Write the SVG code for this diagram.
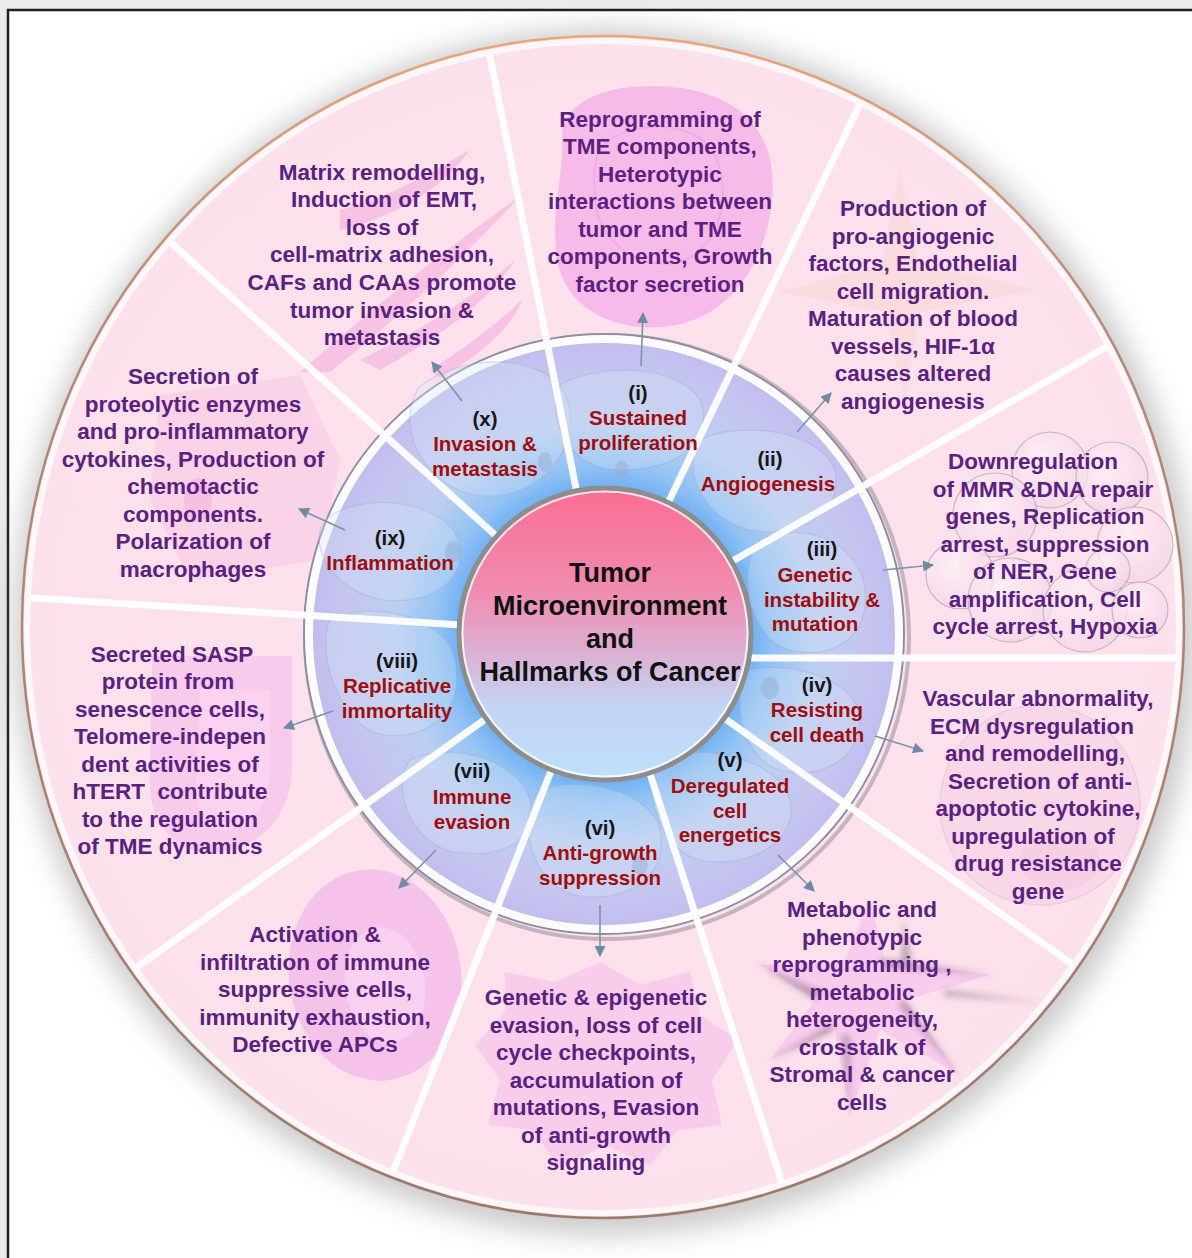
<svg xmlns="http://www.w3.org/2000/svg" width="1192" height="1258" viewBox="0 0 1192 1258">
  <defs>
    <style>
      text { font-family: "Liberation Sans", Arial, Helvetica, sans-serif; font-weight: bold; text-anchor: middle; }
      .desc { font-size: 22.5px; fill: #5a2180; }
      .hm { font-size: 20.5px; fill: #a00d0d; }
      .num { font-size: 20.5px; fill: #161616; }
      .title { font-size: 27px; fill: #111111; }
      .spoke { stroke: #ffffff; stroke-width: 7; stroke-linecap: butt; opacity: 0.95; }
      .conn { stroke: #7d92a8; stroke-width: 1.6; fill: none; marker-end: url(#ah); }
      .cell { fill: #d7e4f6; fill-opacity: 0.3; stroke: #8ea8cb; stroke-opacity: 0.35; stroke-width: 1.2; }
      .nuc { fill: #96aed2; fill-opacity: 0.5; }
      .bub { fill: url(#bubble); fill-opacity: 0.7; stroke: #a89aa6; stroke-width: 1.2; stroke-opacity: 0.6; }
    </style>
    <marker id="ah" viewBox="0 0 10 10" refX="9" refY="5" markerWidth="13" markerHeight="11" markerUnits="userSpaceOnUse" orient="auto">
      <path d="M0,0 L10,5 L0,10 Z" fill="#6f8aa3"/>
    </marker>
    <filter id="soft" x="-10%" y="-10%" width="120%" height="120%">
      <feGaussianBlur stdDeviation="14"/>
    </filter>
    <filter id="blur4" x="-20%" y="-20%" width="140%" height="140%">
      <feGaussianBlur stdDeviation="3"/>
    </filter>
    <linearGradient id="core" x1="0" y1="0" x2="0" y2="1">
      <stop offset="0" stop-color="#fb6d94"/>
      <stop offset="0.35" stop-color="#f08cae"/>
      <stop offset="0.58" stop-color="#dab3d6"/>
      <stop offset="0.74" stop-color="#c4d3f1"/>
      <stop offset="1" stop-color="#bde0fb"/>
    </linearGradient>
    <linearGradient id="rim" x1="0" y1="0" x2="0" y2="1">
      <stop offset="0" stop-color="#e9a77a"/>
      <stop offset="0.25" stop-color="#b48a78"/>
      <stop offset="1" stop-color="#9c7a6a"/>
    </linearGradient>
    <radialGradient id="ring" gradientUnits="userSpaceOnUse" cx="605" cy="634" r="300">
      <stop offset="0.45" stop-color="#5fa8f2"/>
      <stop offset="0.56" stop-color="#92c2f4"/>
      <stop offset="0.7" stop-color="#bccff3"/>
      <stop offset="0.86" stop-color="#c6c6f0"/>
      <stop offset="1" stop-color="#c0bcee"/>
    </radialGradient>
    <radialGradient id="bubble" cx="0.4" cy="0.35" r="0.7">
      <stop offset="0" stop-color="#fdf3f8"/>
      <stop offset="1" stop-color="#f4d3e6"/>
    </radialGradient>
    <radialGradient id="disc" gradientUnits="userSpaceOnUse" cx="603" cy="627" r="590">
      <stop offset="0" stop-color="#fde3ee"/>
      <stop offset="1" stop-color="#fce0eb"/>
    </radialGradient>
    <clipPath id="discClip">
      <ellipse cx="603" cy="627" rx="574" ry="584"/>
    </clipPath>
  </defs>

  <!-- page and frame -->
  <rect x="0" y="0" width="1192" height="1258" fill="#ebebeb"/>
  <rect x="8" y="10" width="1200" height="1270" fill="#ffffff" stroke="#1e1e1e" stroke-width="2.5"/>

  <!-- outer disc with its halo -->
  <ellipse cx="606" cy="632" rx="592" ry="603" fill="#8a8a8a" opacity="0.45" filter="url(#soft)"/>
  <ellipse cx="603" cy="627" rx="581" ry="591" fill="url(#disc)" stroke="url(#rim)" stroke-width="2.5"/>
  <ellipse cx="603" cy="627" rx="576" ry="586" fill="none" stroke="#ffffff" stroke-width="6" opacity="0.75"/>

  <!-- soft illustrations behind the effect texts -->
  <g id="backdrop">
    <!-- (i) cell blob -->
    <path d="M562 140 C560 95 622 80 682 88 C742 98 778 132 772 200 C766 262 730 322 662 327 C602 331 560 300 556 252 C552 205 563 182 562 140 Z" fill="#f6b4ea" opacity="0.85"/>
    <path d="M600 150 C620 120 690 118 712 150 C735 190 720 250 680 262 C640 272 598 240 596 205 C594 180 592 165 600 150 Z" fill="none" stroke="#e79fd8" stroke-width="2" opacity="0.5"/>
    <!-- (x) fibroblast streaks -->
    <g fill="#f4aede" opacity="0.6">
      <path d="M300 372 C360 320 430 260 520 196 C470 250 420 300 330 372 Z"/>
      <path d="M340 210 C380 200 420 180 470 150 C440 190 400 215 340 230 Z"/>
      <path d="M360 360 C420 330 470 300 515 260 C490 300 450 330 380 370 Z"/>
      <path d="M430 370 C470 345 500 320 522 300 C510 330 480 355 440 378 Z"/>
    </g>
    <!-- (ii) endothelial cell -->
    <path d="M900 170 L918 262 L1035 290 L920 312 L905 400 L885 312 L780 292 L882 264 Z" fill="#f6c9b7" opacity="0.22"/>
    <!-- (ix) square cell -->
    <path d="M160 395 L300 375 L340 460 L320 560 L190 580 L150 500 Z" fill="#f6bfe2" opacity="0.4"/>
    <ellipse cx="198" cy="500" rx="14" ry="22" fill="#f5b3df" opacity="0.6"/>
    <!-- (iii) bubble cluster -->
    <g>
      <circle class="bub" cx="1050" cy="470" r="38"/>
      <circle class="bub" cx="1112" cy="478" r="36"/>
      <circle class="bub" cx="995" cy="515" r="42"/>
      <circle class="bub" cx="1135" cy="545" r="38"/>
      <circle class="bub" cx="960" cy="575" r="34"/>
      <circle class="bub" cx="1010" cy="600" r="42"/>
      <circle class="bub" cx="1085" cy="610" r="42"/>
      <circle class="bub" cx="1140" cy="610" r="28"/>
      <circle class="bub" cx="1108" cy="570" r="22"/>
    </g>
    <!-- (viii) shield -->
    <path d="M152 656 L292 656 L292 765 C292 822 252 852 212 852 C172 852 150 822 150 782 Z" fill="#f6c0ec" opacity="0.7"/>
    <path d="M200 690 L270 690 L270 770 C270 810 245 830 222 830 C205 830 195 810 196 785 Z" fill="#fad8f3" opacity="0.6"/>
    <!-- (iv) round cell -->
    <circle cx="1040" cy="805" r="100" fill="#f5cfe6" opacity="0.5" stroke="#e5b8d2" stroke-width="1.5"/>
    <ellipse cx="1060" cy="860" rx="40" ry="30" fill="#f1c5de" opacity="0.45"/>
    <!-- (vii) ring cell -->
    <ellipse cx="375" cy="975" rx="86" ry="106" transform="rotate(-8 375 975)" fill="#f3b5e8" opacity="0.72"/>
    <ellipse cx="385" cy="985" rx="40" ry="58" transform="rotate(-8 385 985)" fill="#f9d3f1" opacity="0.9"/>
    <!-- (vi) ragged cell -->
    <path d="M600 962 L640 985 L690 972 L700 1015 L738 1040 L712 1080 L722 1125 L678 1130 L650 1165 L605 1145 L560 1168 L532 1130 L488 1125 L500 1080 L475 1045 L505 1012 L505 972 L555 982 Z" fill="#f8c3ec" opacity="0.7"/>
    <!-- (v) starburst -->
    <g>
      <path d="M870 900 L885 960 L990 975 L905 1000 L960 1075 L880 1030 L850 1115 L835 1030 L770 1060 L815 1000 L760 965 L845 960 Z" fill="#f8c6ee" opacity="0.8"/>
      <g fill="#7d6b7a" opacity="0.5" filter="url(#blur4)">
        <path d="M880 958 L995 975 L886 968 Z"/>
        <path d="M905 1000 L962 1078 L898 1005 Z"/>
        <path d="M835 1030 L768 1062 L830 1024 Z"/>
        <path d="M815 1000 L755 962 L822 992 Z"/>
        <path d="M850 1035 L850 1118 L842 1035 Z"/>
        <path d="M944 990 L1042 1002 L944 996 Z"/>
        <path d="M905 920 L912 965 L900 965 Z"/>
      </g>
    </g>
  </g>

  <!-- inner ring with cells -->
  <g id="ring-band">
    <circle cx="607" cy="637" r="302" fill="none" stroke="#5e5e6e" stroke-width="4" opacity="0.35"/>
    <circle cx="604" cy="634" r="300" fill="url(#ring)" stroke="#8e8e9e" stroke-width="2"/>
    <circle cx="604" cy="634" r="295" fill="none" stroke="#ffffff" stroke-width="8" opacity="0.95"/>
    <g>
      <path class="cell" d="M418 388 C468 348 555 355 568 402 C580 450 540 500 482 496 C432 492 392 434 418 388 Z"/>
      <path class="cell" d="M560 385 C600 362 680 365 700 400 C715 440 680 470 620 470 C570 470 545 420 560 385 Z"/>
      <path class="cell" d="M700 440 C740 420 820 430 835 470 C845 510 800 540 750 530 C705 520 680 470 700 440 Z"/>
      <path class="cell" d="M760 540 C800 520 860 540 865 590 C870 640 830 660 790 650 C750 640 735 570 760 540 Z"/>
      <path class="cell" d="M750 670 C790 660 860 680 860 720 C860 760 820 780 780 770 C740 760 730 690 750 670 Z"/>
      <path class="cell" d="M660 760 C700 740 780 760 790 800 C800 840 750 870 700 860 C660 850 640 790 660 760 Z"/>
      <path class="cell" d="M540 790 C580 775 650 790 660 830 C670 880 620 905 575 895 C530 885 515 815 540 790 Z"/>
      <path class="cell" d="M410 760 C450 740 520 760 530 800 C540 840 500 860 455 852 C410 845 390 785 410 760 Z"/>
      <path class="cell" d="M330 620 C370 600 445 615 455 660 C465 710 430 740 385 735 C340 730 315 650 330 620 Z"/>
      <path class="cell" d="M325 520 C360 490 445 500 458 540 C470 580 430 605 385 600 C340 595 305 550 325 520 Z"/>
    </g>
    <ellipse class="nuc" cx="453" cy="552" rx="8" ry="11"/>
    <ellipse class="nuc" cx="770" cy="688" rx="9" ry="11"/>
    <ellipse class="nuc" cx="622" cy="470" rx="7" ry="9"/>
    <ellipse class="nuc" cx="545" cy="462" rx="7" ry="10"/>
    <ellipse class="nuc" cx="640" cy="865" rx="8" ry="10"/>
  </g>

  <!-- dividers between the ten sectors -->
  <g id="spokes" clip-path="url(#discClip)">
    <line class="spoke" x1="605" y1="634" x2="484" y2="26"/>
    <line class="spoke" x1="605" y1="634" x2="148" y2="222"/>
    <line class="spoke" x1="605" y1="634" x2="0" y2="596"/>
    <line class="spoke" x1="605" y1="634" x2="109" y2="987"/>
    <line class="spoke" x1="605" y1="634" x2="382" y2="1200"/>
    <line class="spoke" x1="605" y1="634" x2="789" y2="1205"/>
    <line class="spoke" x1="605" y1="634" x2="1102" y2="985"/>
    <line class="spoke" x1="700" y1="658" x2="1200" y2="658"/>
    <line class="spoke" x1="605" y1="634" x2="1136" y2="330"/>
    <line class="spoke" x1="605" y1="634" x2="871" y2="81"/>
  </g>

  <!-- central hub -->
  <g id="node-center">
    <circle cx="605" cy="634" r="146" fill="url(#core)" stroke="#8d8d8d" stroke-width="5"/>
    <circle cx="605" cy="634" r="142.5" fill="none" stroke="#ffffff" stroke-width="2" opacity="0.8"/>
    <text class="title" x="610" y="582">Tumor</text>
    <text class="title" x="610" y="615">Microenvironment</text>
    <text class="title" x="610" y="648">and</text>
    <text class="title" x="610" y="681">Hallmarks of Cancer</text>
  </g>

  <!-- hallmarks on the ring -->
  <g id="hallmark-i">
    <text class="num" x="638" y="400">(i)</text>
    <text class="hm" x="638" y="425">Sustained</text>
    <text class="hm" x="638" y="450">proliferation</text>
  </g>
  <g id="hallmark-ii">
    <text class="num" x="770" y="466">(ii)</text>
    <text class="hm" x="768" y="491">Angiogenesis</text>
  </g>
  <g id="hallmark-iii">
    <text class="num" x="822" y="556">(iii)</text>
    <text class="hm" x="815" y="582">Genetic</text>
    <text class="hm" x="822" y="607">instability &amp;</text>
    <text class="hm" x="815" y="631">mutation</text>
  </g>
  <g id="hallmark-iv">
    <text class="num" x="817" y="692">(iv)</text>
    <text class="hm" x="817" y="717">Resisting</text>
    <text class="hm" x="817" y="742">cell death</text>
  </g>
  <g id="hallmark-v">
    <text class="num" x="730" y="767">(v)</text>
    <text class="hm" x="730" y="793">Deregulated</text>
    <text class="hm" x="730" y="818">cell</text>
    <text class="hm" x="730" y="842">energetics</text>
  </g>
  <g id="hallmark-vi">
    <text class="num" x="600" y="835">(vi)</text>
    <text class="hm" x="600" y="860">Anti-growth</text>
    <text class="hm" x="600" y="885">suppression</text>
  </g>
  <g id="hallmark-vii">
    <text class="num" x="472" y="778">(vii)</text>
    <text class="hm" x="472" y="804">Immune</text>
    <text class="hm" x="472" y="829">evasion</text>
  </g>
  <g id="hallmark-viii">
    <text class="num" x="397" y="668">(viii)</text>
    <text class="hm" x="397" y="693">Replicative</text>
    <text class="hm" x="397" y="718">immortality</text>
  </g>
  <g id="hallmark-ix">
    <text class="num" x="390" y="545">(ix)</text>
    <text class="hm" x="390" y="570">Inflammation</text>
  </g>
  <g id="hallmark-x">
    <text class="num" x="485" y="426">(x)</text>
    <text class="hm" x="485" y="451">Invasion &amp;</text>
    <text class="hm" x="485" y="476">metastasis</text>
  </g>

  <!-- effects in the tumour microenvironment -->
  <g id="effect-i">
    <text class="desc" x="660" y="127">Reprogramming of</text>
    <text class="desc" x="660" y="154">TME components,</text>
    <text class="desc" x="660" y="182">Heterotypic</text>
    <text class="desc" x="660" y="209">interactions between</text>
    <text class="desc" x="660" y="237">tumor and TME</text>
    <text class="desc" x="660" y="264">components, Growth</text>
    <text class="desc" x="660" y="292">factor secretion</text>
  </g>
  <g id="effect-x">
    <text class="desc" x="382" y="180">Matrix remodelling,</text>
    <text class="desc" x="384" y="207">Induction of EMT,</text>
    <text class="desc" x="382" y="235">loss of</text>
    <text class="desc" x="382" y="262">cell-matrix adhesion,</text>
    <text class="desc" x="382" y="290">CAFs and CAAs promote</text>
    <text class="desc" x="382" y="318">tumor invasion &amp;</text>
    <text class="desc" x="382" y="345">metastasis</text>
  </g>
  <g id="effect-ii">
    <text class="desc" x="913" y="216">Production of</text>
    <text class="desc" x="913" y="244">pro-angiogenic</text>
    <text class="desc" x="913" y="271">factors, Endothelial</text>
    <text class="desc" x="913" y="299">cell migration.</text>
    <text class="desc" x="913" y="326">Maturation of blood</text>
    <text class="desc" x="913" y="354">vessels, HIF-1α</text>
    <text class="desc" x="913" y="381">causes altered</text>
    <text class="desc" x="913" y="409">angiogenesis</text>
  </g>
  <g id="effect-ix">
    <text class="desc" x="193" y="384">Secretion of</text>
    <text class="desc" x="193" y="412">proteolytic enzymes</text>
    <text class="desc" x="193" y="439">and pro-inflammatory</text>
    <text class="desc" x="193" y="467">cytokines, Production of</text>
    <text class="desc" x="193" y="494">chemotactic</text>
    <text class="desc" x="193" y="522">components.</text>
    <text class="desc" x="193" y="549">Polarization of</text>
    <text class="desc" x="193" y="577">macrophages</text>
  </g>
  <g id="effect-iii">
    <text class="desc" x="1033" y="469">Downregulation</text>
    <text class="desc" x="1043" y="497">of MMR &amp;DNA repair</text>
    <text class="desc" x="1045" y="524">genes, Replication</text>
    <text class="desc" x="1045" y="552">arrest, suppression</text>
    <text class="desc" x="1045" y="579">of NER, Gene</text>
    <text class="desc" x="1045" y="607">amplification, Cell</text>
    <text class="desc" x="1045" y="634">cycle arrest, Hypoxia</text>
  </g>
  <g id="effect-viii">
    <text class="desc" x="172" y="662">Secreted SASP</text>
    <text class="desc" x="168" y="689">protein from</text>
    <text class="desc" x="170" y="717">senescence cells,</text>
    <text class="desc" x="170" y="744">Telomere-indepen</text>
    <text class="desc" x="170" y="772">dent activities of</text>
    <text class="desc" x="170" y="799" xml:space="preserve">hTERT  contribute</text>
    <text class="desc" x="170" y="827">to the regulation</text>
    <text class="desc" x="170" y="854">of TME dynamics</text>
  </g>
  <g id="effect-iv">
    <text class="desc" x="1038" y="706">Vascular abnormality,</text>
    <text class="desc" x="1032" y="734">ECM dysregulation</text>
    <text class="desc" x="1035" y="761">and remodelling,</text>
    <text class="desc" x="1040" y="789">Secretion of anti-</text>
    <text class="desc" x="1038" y="816">apoptotic cytokine,</text>
    <text class="desc" x="1033" y="844">upregulation of</text>
    <text class="desc" x="1038" y="871">drug resistance</text>
    <text class="desc" x="1038" y="899">gene</text>
  </g>
  <g id="effect-vii">
    <text class="desc" x="315" y="942">Activation &amp;</text>
    <text class="desc" x="315" y="970">infiltration of immune</text>
    <text class="desc" x="315" y="997">suppressive cells,</text>
    <text class="desc" x="315" y="1025">immunity exhaustion,</text>
    <text class="desc" x="315" y="1052">Defective APCs</text>
  </g>
  <g id="effect-vi">
    <text class="desc" x="596" y="1005">Genetic &amp; epigenetic</text>
    <text class="desc" x="596" y="1033">evasion, loss of cell</text>
    <text class="desc" x="596" y="1060">cycle checkpoints,</text>
    <text class="desc" x="596" y="1088">accumulation of</text>
    <text class="desc" x="596" y="1115">mutations, Evasion</text>
    <text class="desc" x="596" y="1143">of anti-growth</text>
    <text class="desc" x="596" y="1170">signaling</text>
  </g>
  <g id="effect-v">
    <text class="desc" x="862" y="917">Metabolic and</text>
    <text class="desc" x="862" y="945">phenotypic</text>
    <text class="desc" x="862" y="972">reprogramming ,</text>
    <text class="desc" x="862" y="1000">metabolic</text>
    <text class="desc" x="862" y="1027">heterogeneity,</text>
    <text class="desc" x="862" y="1055">crosstalk of</text>
    <text class="desc" x="862" y="1082">Stromal &amp; cancer</text>
    <text class="desc" x="862" y="1110">cells</text>
  </g>

  <!-- arrows from each hallmark to its effects -->
  <g id="connectors">
    <line class="conn" x1="641" y1="366" x2="643" y2="313"/>
    <line class="conn" x1="462" y1="401" x2="432" y2="362"/>
    <line class="conn" x1="797" y1="432" x2="831" y2="393"/>
    <line class="conn" x1="345" y1="530" x2="299" y2="509"/>
    <line class="conn" x1="883" y1="570" x2="933" y2="565"/>
    <line class="conn" x1="875" y1="736" x2="923" y2="751"/>
    <line class="conn" x1="333" y1="711" x2="284" y2="728"/>
    <line class="conn" x1="436" y1="850" x2="399" y2="888"/>
    <line class="conn" x1="600" y1="905" x2="600" y2="956"/>
    <line class="conn" x1="778" y1="855" x2="814" y2="891"/>
  </g>
</svg>
